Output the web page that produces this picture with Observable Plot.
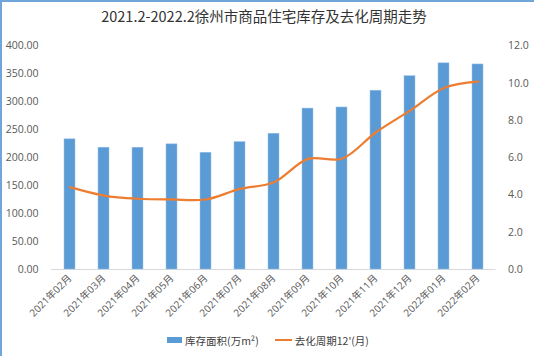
<!DOCTYPE html>
<html><head><meta charset="utf-8">
<script src="https://cdn.jsdelivr.net/npm/d3@7"></script>
<script src="https://cdn.jsdelivr.net/npm/@observablehq/plot@0.6"></script>
<style>
html,body{margin:0;padding:0;background:#fff;}
#wrap{width:532px;height:354px;border-top:2px solid #6fa5d8;border-left:2px solid #6fa5d8;position:relative;overflow:hidden;font-family:"Open Sans","Noto Sans CJK SC",sans-serif;}
#title{height:28px;line-height:28px;text-align:center;font-size:14.5px;color:#333;font-family:"Noto Sans CJK SC","Open Sans",sans-serif;margin-left:-8px;}
#legend{position:absolute;top:328px;left:0;width:532px;height:20px;display:flex;justify-content:center;align-items:center;font-size:10.5px;color:#404040;font-family:"Noto Sans CJK SC",sans-serif;}
.sw{display:inline-block;width:15px;height:6px;background:#5b9bd5;margin-right:3px;}
.ln{display:inline-block;width:17px;height:2px;background:#ed7d31;margin-right:3px;margin-left:16px;}
</style></head>
<body><div id="wrap"><div id="title">2021.2-2022.2徐州市商品住宅库存及去化周期走势</div><div id="chart"></div>
<div id="legend"><span class="sw"></span><span>库存面积(万m²)</span><span class="ln"></span><span>去化周期12'(月)</span></div></div>
<script>
const months = ["2021年02月","2021年03月","2021年04月","2021年05月","2021年06月","2021年07月","2021年08月","2021年09月","2021年10月","2021年11月","2021年12月","2022年01月","2022年02月"];
const inventory = [233, 218, 218, 224, 209, 228, 243, 288, 290, 320, 346, 369, 367];
const cycle = [4.42, 3.97, 3.80, 3.76, 3.76, 4.33, 4.69, 5.94, 5.95, 7.37, 8.53, 9.75, 10.09];
const leftTicks = [0, 50, 100, 150, 200, 250, 300, 350, 400];
const rightTicks = [0, 2, 4, 6, 8, 10, 12];

const k = 400 / 12;
const data = months.map((m, i) => ({month: m, inv: inventory[i], cyc: cycle[i]}));

const chart = Plot.plot({
  width: 532,
  height: 300,
  marginTop: 15.5,
  marginBottom: 61,
  marginLeft: 49,
  marginRight: 38.5,
  style: {fontFamily: '"Open Sans","Noto Sans CJK SC",sans-serif', fontSize: "10.5px", color: "#595959", background: "transparent"},
  x: {domain: months, paddingInner: 0.69, paddingOuter: 0.345, align: 0.5},
  y: {domain: [0, 400]},
  marks: [
    Plot.axisY({ticks: leftTicks, tickFormat: d => d.toFixed(2), tickSize: 0, tickPadding: 13, label: null}),
    Plot.axisY({anchor: "right", ticks: rightTicks.map(v => v * k), tickFormat: d => (d / k).toFixed(1), tickSize: 0, tickPadding: 12, label: null}),
    Plot.axisX({tickRotate: -45, tickSize: 0, tickPadding: 7, label: null, fontSize: "10px"}),
    Plot.ruleY([0], {stroke: "#d9d9d9", strokeWidth: 1}),
    Plot.barY(data, {x: "month", y: "inv", fill: "#5b9bd5", stroke: "#9dc3e6", strokeWidth: 0.5}),
    Plot.line(data, {x: "month", y: d => d.cyc * k, stroke: "#ed7d31", strokeWidth: 2.2, curve: "catmull-rom"})
  ]
});
document.getElementById("chart").appendChild(chart);
</script></body></html>
